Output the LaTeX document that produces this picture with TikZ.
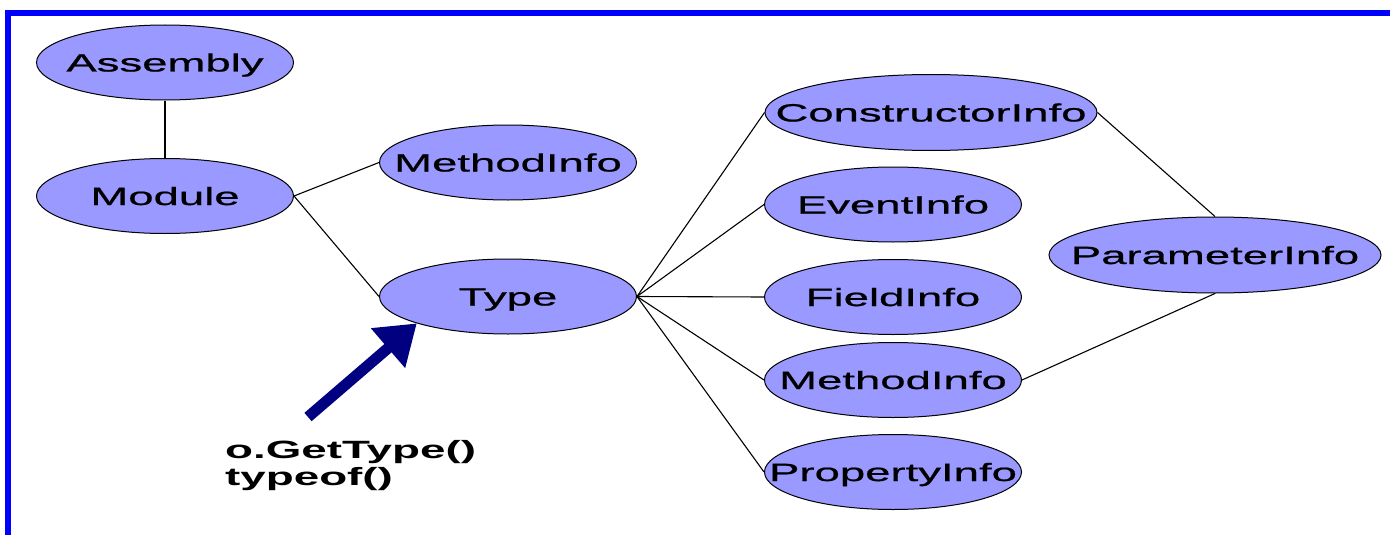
\documentclass[tikz,border=0pt]{standalone}
\usepackage{fontspec}
\usetikzlibrary{shapes.geometric,arrows.meta}
\newfontfamily\lblfont{Liberation Sans}[FakeStretch=1.82,FakeBold=0.8]
\newfontfamily\callfont{Liberation Sans}[FakeStretch=1.83]
\definecolor{nodefill}{RGB}{153,153,255}
\definecolor{frameblue}{RGB}{0,0,255}
\definecolor{arrownavy}{RGB}{0,0,128}
% label set in a zero-size box so the ellipse keeps its given size
\newcommand{\clsname}[1]{\makebox[0pt][c]{\raisebox{-0.36em}[0pt][0pt]{#1}}}
\begin{document}
\begin{tikzpicture}[x=1pt,y=-1pt,
  cls/.style={ellipse,draw=black,line width=1pt,fill=nodefill,
    minimum width=257pt,minimum height=75pt,inner sep=0pt,
    text height=0pt,text depth=0pt,
    font=\lblfont\fontsize{25}{30}\selectfont},
  widecls/.style={cls,minimum width=332pt,minimum height=76pt},
  link/.style={draw=black,line width=1.1pt},
  bigarrow/.style={draw=arrownavy,line width=11pt,
    -{Triangle[length=38pt,width=50pt]}}]
  \useasboundingbox (0,0) rectangle (1390,535);
  % frame along the top and left edges
  \begin{scope}
    \clip (0,0) rectangle (1390,535);
    \draw[frameblue,line width=6pt] (8,13) rectangle (1400,545);
  \end{scope}

  % classes
  \node[cls] (asm) at (165,62.5) {\clsname{Assembly}};
  \node[cls] (mod) at (165,196) {\clsname{Module}};
  \node[cls] (mi1) at (508,162.5) {\clsname{MethodInfo}};
  \node[cls] (type) at (508,296.5) {\clsname{Type}};
  \node[widecls] (ctor) at (931,112.5) {\clsname{ConstructorInfo}};
  \node[cls] (evt) at (893,204.5) {\clsname{EventInfo}};
  \node[cls] (fld) at (893,297) {\clsname{FieldInfo}};
  \node[cls] (mi2) at (893,380) {\clsname{MethodInfo}};
  \node[cls] (prop) at (893,472) {\clsname{PropertyInfo}};
  \node[widecls] (par) at (1215,255) {\clsname{ParameterInfo}};

  % relations
  \draw[link] (asm.south) -- (mod.north);
  \draw[link] (mod.east) -- (mi1.west);
  \draw[link] (mod.east) -- (type.west);
  \foreach \t in {ctor,evt,fld,mi2,prop}
    \draw[link] (type.east) -- (\t.west);
  \draw[link] (ctor.east) -- (par.north);
  \draw[link] (mi2.east) -- (par.south);

  % how a Type object is obtained
  \node[anchor=base west,align=left,inner sep=0pt,
        font=\callfont\bfseries\fontsize{25}{27}\selectfont]
        (call) at (225,485) {o.GetType()\\typeof()};
  \coordinate (src) at (308,417);
  \draw[bigarrow] (src) -- (type.south west);
\end{tikzpicture}
\end{document}
